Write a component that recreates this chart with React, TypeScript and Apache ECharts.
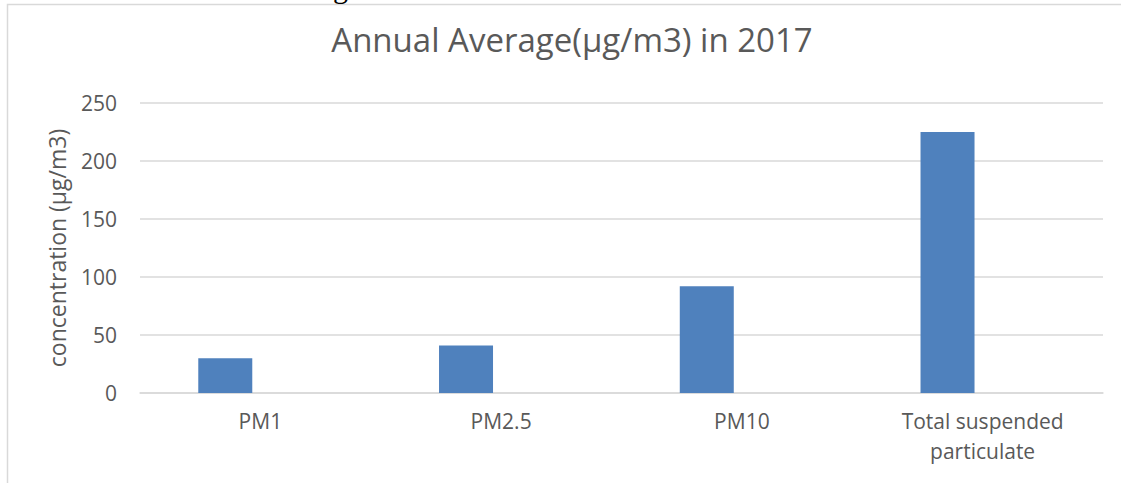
import React, { useEffect, useRef } from "react";
import * as echarts from "echarts";

const categories = ["PM1", "PM2.5", "PM10", "Total suspended\nparticulate"];
const annualAverage = [30, 41, 92, 225];
const emptySeries = [null, null, null, null];
const yTicks = { min: 0, max: 250, interval: 50 };

export default function App() {
  const ref = useRef<HTMLDivElement>(null);
  useEffect(() => {
    document.body.style.margin = "0";
    const chart = echarts.init(ref.current!, null, { renderer: "svg" });
    const textColor = "#595959";
    const font = "Open Sans";
    chart.setOption({
      animation: false,
      backgroundColor: "#ffffff",
      title: {
        text: "Annual Average(µg/m3) in 2017",
        left: 567,
        textAlign: "center",
        top: 18,
        textStyle: { color: textColor, fontSize: 33, fontWeight: "normal", fontFamily: font },
      },
      graphic: [
        {
          type: "rect",
          shape: { x: 7.5, y: 4.5, width: 1140, height: 520 },
          style: { fill: "none", stroke: "#d9d9d9", lineWidth: 1.5 },
          silent: true,
        },
        {
          type: "text",
          x: 333,
          y: -28,
          style: { text: "g", font: "30px 'Liberation Serif'", fill: "#000", verticalAlign: "top" },
          silent: true,
        },
      ],
      grid: { left: 140, right: 18, top: 103, bottom: 90 },
      xAxis: {
        type: "category",
        data: categories,
        axisTick: { show: false },
        axisLine: { lineStyle: { color: "#d9d9d9", width: 1.5 } },
        axisLabel: { color: textColor, fontSize: 21, fontFamily: font, margin: 13, lineHeight: 30, interval: 0 },
      },
      yAxis: {
        type: "value",
        min: yTicks.min,
        max: yTicks.max,
        interval: yTicks.interval,
        name: "concentration (µg/m3)",
        nameLocation: "middle",
        nameRotate: 90,
        nameGap: 72,
        nameTextStyle: { color: textColor, fontSize: 23, fontFamily: font },
        axisLine: { show: false },
        axisTick: { show: false },
        axisLabel: { color: textColor, fontSize: 21, fontFamily: font, margin: 23 },
        splitLine: { lineStyle: { color: "#d9d9d9", width: 1.5 } },
      },
      series: [
        {
          name: "Annual average",
          type: "bar",
          data: annualAverage,
          barWidth: 54,
          barGap: "30%",
          itemStyle: { color: "#4f81bd" },
        },
        {
          name: "empty",
          type: "bar",
          data: emptySeries,
          barWidth: 54,
          itemStyle: { color: "#c0504d" },
        },
      ],
    });
    return () => chart.dispose();
  }, []);
  return <div ref={ref} style={{ width: 1121, height: 483 }} />;
}
